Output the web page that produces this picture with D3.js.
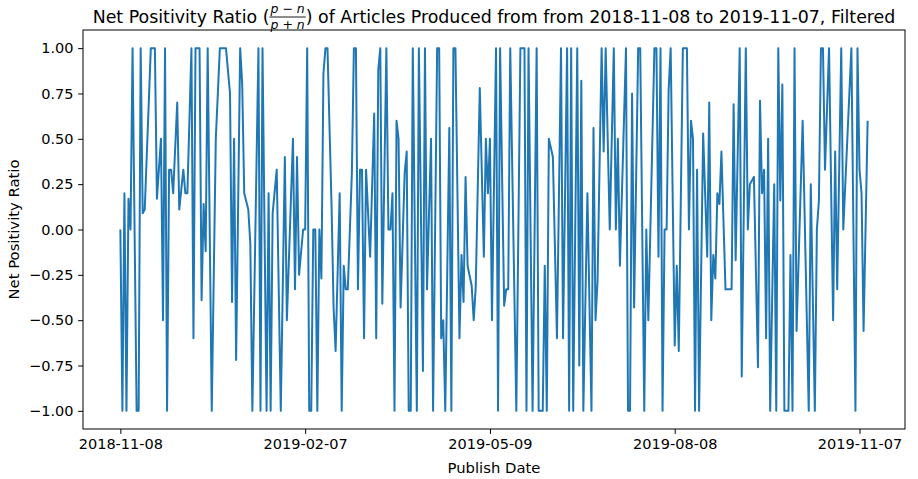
<!DOCTYPE html>
<html>
<head>
<meta charset="utf-8">
<script src="https://cdn.jsdelivr.net/npm/d3@7"></script>
<style>
  body { margin: 0; background: #fff; }
  svg text { font-family: "DejaVu Sans", sans-serif; fill: #000; }
</style>
</head>
<body>
<svg id="chart" width="918" height="479"></svg>
<script>
// Daily net positivity ratio of published articles
const publishDates = [
  "2018-11-08","2018-11-09","2018-11-10","2018-11-11","2018-11-12","2018-11-13","2018-11-14","2018-11-16","2018-11-17","2018-11-18",
  "2018-11-19","2018-11-20","2018-11-23","2018-11-25","2018-11-26","2018-11-28","2018-11-29","2018-11-30",
  "2018-12-01","2018-12-02","2018-12-03","2018-12-04","2018-12-06","2018-12-07","2018-12-09","2018-12-10","2018-12-11","2018-12-13",
  "2018-12-14","2018-12-15","2018-12-17","2018-12-18","2018-12-19","2018-12-20","2018-12-21","2018-12-23","2018-12-25","2018-12-27","2018-12-30",
  "2019-01-01","2019-01-02","2019-01-03","2019-01-04","2019-01-06","2019-01-07","2019-01-08","2019-01-10","2019-01-11","2019-01-12",
  "2019-01-15","2019-01-16","2019-01-17","2019-01-19","2019-01-20","2019-01-21","2019-01-22","2019-01-24","2019-01-26","2019-01-28","2019-01-29",
  "2019-02-01","2019-02-02","2019-02-03","2019-02-04","2019-02-06","2019-02-07","2019-02-08","2019-02-09","2019-02-10","2019-02-11",
  "2019-02-12","2019-02-13","2019-02-14","2019-02-15","2019-02-16","2019-02-17","2019-02-18","2019-02-20","2019-02-21","2019-02-22",
  "2019-02-24","2019-02-25","2019-02-26","2019-02-27","2019-02-28",
  "2019-03-02","2019-03-03","2019-03-04","2019-03-05","2019-03-06","2019-03-07","2019-03-08","2019-03-09","2019-03-11","2019-03-13",
  "2019-03-14","2019-03-15","2019-03-16","2019-03-17","2019-03-19","2019-03-20","2019-03-21","2019-03-22","2019-03-23","2019-03-24",
  "2019-03-25","2019-03-26","2019-03-28","2019-03-29","2019-03-30","2019-03-31",
  "2019-04-01","2019-04-03","2019-04-04","2019-04-06","2019-04-07","2019-04-08","2019-04-10","2019-04-11","2019-04-13","2019-04-14",
  "2019-04-15","2019-04-16","2019-04-17","2019-04-19","2019-04-20","2019-04-21","2019-04-22","2019-04-24","2019-04-25","2019-04-26",
  "2019-04-27","2019-04-28","2019-04-30",
  "2019-05-01","2019-05-02","2019-05-04","2019-05-06","2019-05-07","2019-05-08","2019-05-09","2019-05-10","2019-05-12","2019-05-13",
  "2019-05-14","2019-05-16","2019-05-17","2019-05-18","2019-05-19","2019-05-22","2019-05-24","2019-05-26","2019-05-27","2019-05-28","2019-05-30",
  "2019-06-01","2019-06-02","2019-06-04","2019-06-05","2019-06-06","2019-06-07","2019-06-09","2019-06-11","2019-06-13","2019-06-14",
  "2019-06-16","2019-06-17","2019-06-18","2019-06-19","2019-06-21","2019-06-22","2019-06-23","2019-06-24","2019-06-26","2019-06-28",
  "2019-06-29","2019-06-30",
  "2019-07-01","2019-07-03","2019-07-04","2019-07-05","2019-07-07","2019-07-09","2019-07-10","2019-07-11","2019-07-12","2019-07-15",
  "2019-07-16","2019-07-17","2019-07-18","2019-07-19","2019-07-21","2019-07-22","2019-07-24","2019-07-25","2019-07-26","2019-07-29",
  "2019-07-30","2019-07-31",
  "2019-08-01","2019-08-02","2019-08-03","2019-08-04","2019-08-05","2019-08-06","2019-08-08","2019-08-09","2019-08-10","2019-08-12",
  "2019-08-14","2019-08-15","2019-08-16","2019-08-17","2019-08-18","2019-08-19","2019-08-20","2019-08-22","2019-08-24","2019-08-25",
  "2019-08-26","2019-08-27","2019-08-28","2019-08-29","2019-08-30","2019-08-31",
  "2019-09-02","2019-09-05","2019-09-06","2019-09-07","2019-09-09","2019-09-10","2019-09-12","2019-09-13","2019-09-14","2019-09-16",
  "2019-09-18","2019-09-19","2019-09-20","2019-09-21","2019-09-22","2019-09-23","2019-09-24","2019-09-26","2019-09-27","2019-09-28",
  "2019-09-29","2019-09-30",
  "2019-10-01","2019-10-03","2019-10-04","2019-10-05","2019-10-06","2019-10-07","2019-10-10","2019-10-13","2019-10-14","2019-10-16",
  "2019-10-17","2019-10-18","2019-10-19","2019-10-20","2019-10-21","2019-10-23","2019-10-25","2019-10-26","2019-10-27","2019-10-29",
  "2019-10-30",
  "2019-11-03","2019-11-05","2019-11-06","2019-11-07","2019-11-08","2019-11-09","2019-11-11"
];

const netPositivity = [
  0, -1, 0.2, -1, 0.17, 0, 1, -1, -1, 1,
  0.09, 0.11, 1, 1, 0.17, 0.5, -0.5, 1,
  -1, 0.33, 0.33, 0.2, 0.7, 0.11, 0.33, 0.2, 0.2, 1,
  -0.6, 1, 1, -0.39, 0.14, -0.12, 1, -1, 0.5, 1, 1,
  0.75, -0.4, 0.5, -0.72, 1, 0.8, 0.2, 0.11, -0.08, -1,
  1, -1, 1, -1, 0.2, -1, 0.09, 0.33, -1, 0.4, -0.5,
  0.5, -0.33, 0.4, -0.25, 0, 0, 1, -1, -1, 0,
  0, -1, 0, -0.27, 0.86, 1, 1, 0.13, -0.43, -0.67,
  0.2, -1, -0.2, -0.33, -0.33,
  0.31, 1, 1, -0.33, 0.33, 0.33, -0.6, 0.33, -0.15, 0.64,
  -0.6, 0.88, 1, -0.41, 1, 0, 0, 0.2, -1, 0.6,
  0.5, -0.43, 0.31, 0.43, -1, -1,
  1, -1, 1, -0.78, 1, -0.33, 0.5, -1, 1, 1,
  -0.6, -0.5, -1, 0.56, -1, 1, 1, -0.6, -0.14, -0.4,
  0.29, -0.2, -0.31,
  -0.5, -0.32, 0.78, -0.15, 0.5, 0.2, 0.5, -0.5, 1, -1,
  1, -0.42, -0.33, -0.33, 1, -1, 1, 1, -1, 1, -1,
  1, -1, -1, -0.2, -1, 0.5, 0.4, -0.6, 1, -0.6,
  1, -1, 1, -1, 1, -0.75, 0.82, -1, 0.2, -1,
  0.56, -0.5,
  -0.28, 1, 0.43, 1, 0, 1, 0, 0.5, -0.2, 1,
  -1, -1, 0.75, -0.43, 1, 1, -1, 0, -0.5, 1,
  1, -0.15,
  1, -1, 0, 0, 0.77, 1, -0.64, -0.2, -0.67, 1,
  1, 0, 0.6, 0.5, -1, 0.33, -1, 0.53, -0.15, 0.7,
  -0.5, -0.14, -0.27, 0.2, 0.14, 0.43,
  -0.33, -0.33, 0.69, -0.17, 1, -0.81, 1, 0, 0.25, 0.29,
  -0.76, 0.71, 0.2, 0.33, -0.6, 0.5, -1, 0.25, -1, 1,
  0.16, 0.8,
  -1, -1, -0.14, -1, 1, -0.56, 0.6, -1, 0.25, -1,
  0, 0.16, 1, 1, 0.33, 1, -0.5, 0.43, -0.33, 1,
  0,
  1, -1, 1, 0.33, 0.2, -0.56, 0.6
];

const xTickLabels = ["2018-11-08", "2019-02-07", "2019-05-09", "2019-08-08", "2019-11-07"];
const yTickValues = [-1, -0.75, -0.5, -0.25, 0, 0.25, 0.5, 0.75, 1];

const parseDate = d3.utcParse("%Y-%m-%d");
const points = publishDates.map((d, i) => ({ date: parseDate(d), value: netPositivity[i] }));

const svg = d3.select("#chart");
const plot = { left: 83, right: 905, top: 30, bottom: 429 };

// Domains padded by 5% on each side
const [dMin, dMax] = d3.extent(points, p => p.date);
const dSpan = dMax - dMin;
const x = d3.scaleUtc()
  .domain([new Date(+dMin - dSpan * 0.05), new Date(+dMax + dSpan * 0.05)])
  .range([plot.left, plot.right]);

const [vMin, vMax] = d3.extent(points, p => p.value);
const vSpan = vMax - vMin;
const y = d3.scaleLinear()
  .domain([vMin - vSpan * 0.05, vMax + vSpan * 0.05])
  .range([plot.bottom, plot.top]);

const tickFont = 14.5;
const labelFont = 14.8;
const minus = s => s.replace("-", "\u2212");

// X axis
const xAxis = svg.append("g")
  .attr("transform", `translate(0,${plot.bottom})`)
  .call(d3.axisBottom(x)
    .tickValues(xTickLabels.map(parseDate))
    .tickFormat(d3.utcFormat("%Y-%m-%d"))
    .tickSize(4.9)
    .tickPadding(4.6));
xAxis.select(".domain").remove();
xAxis.selectAll(".tick line").attr("stroke", "#000").attr("stroke-width", 1);
xAxis.selectAll(".tick text").attr("font-size", tickFont).attr("font-family", "DejaVu Sans").attr("fill", "#000");

// Y axis
const yAxis = svg.append("g")
  .attr("transform", `translate(${plot.left},0)`)
  .call(d3.axisLeft(y)
    .tickValues(yTickValues)
    .tickFormat(v => minus(d3.format(".2f")(v)))
    .tickSize(4.9)
    .tickPadding(4.6));
yAxis.select(".domain").remove();
yAxis.selectAll(".tick line").attr("stroke", "#000").attr("stroke-width", 1);
yAxis.selectAll(".tick text").attr("font-size", tickFont).attr("font-family", "DejaVu Sans").attr("fill", "#000");

// Series line
const line = d3.line()
  .x(p => x(p.date))
  .y(p => y(p.value));

svg.append("path")
  .datum(points)
  .attr("fill", "none")
  .attr("stroke", "#1f77b4")
  .attr("stroke-width", 2)
  .attr("stroke-linejoin", "round")
  .attr("stroke-linecap", "butt")
  .attr("d", line);

// Axes frame
svg.append("rect")
  .attr("x", plot.left).attr("y", plot.top)
  .attr("width", plot.right - plot.left).attr("height", plot.bottom - plot.top)
  .attr("fill", "none").attr("stroke", "#000").attr("stroke-width", 1);

// Axis labels
svg.append("text")
  .attr("x", (plot.left + plot.right) / 2).attr("y", 473)
  .attr("text-anchor", "middle").attr("font-size", labelFont)
  .text("Publish Date");

svg.append("text")
  .attr("transform", `translate(19,${(plot.top + plot.bottom) / 2}) rotate(-90)`)
  .attr("text-anchor", "middle").attr("font-size", labelFont)
  .text("Net Positivity Ratio");

// Title with inline fraction (p − n)/(p + n)
const titleSize = 17.4;
const titleBase = 23;
const title = svg.append("g");
const left = title.append("text").attr("font-size", titleSize).attr("y", titleBase)
  .text("Net Positivity Ratio (");
const frac = title.append("g");
const fracSize = 12.5;
const num = frac.append("text").attr("font-size", fracSize).attr("text-anchor", "middle").attr("y", titleBase - 10);
num.append("tspan").attr("font-style", "italic").text("p");
num.append("tspan").text(" \u2212 ");
num.append("tspan").attr("font-style", "italic").text("n");
const den = frac.append("text").attr("font-size", fracSize).attr("text-anchor", "middle").attr("y", titleBase + 6);
den.append("tspan").attr("font-style", "italic").text("p");
den.append("tspan").text(" + ");
den.append("tspan").attr("font-style", "italic").text("n");
const right = title.append("text").attr("font-size", titleSize).attr("y", titleBase)
  .text(") of Articles Produced from from 2018-11-08 to 2019-11-07, Filtered");

const wLeft = left.node().getComputedTextLength();
const wFrac = Math.max(num.node().getComputedTextLength(), den.node().getComputedTextLength()) + 2;
const wRight = right.node().getComputedTextLength();
const total = wLeft + wFrac + wRight;
const start = (plot.left + plot.right) / 2 - total / 2;
left.attr("x", start);
num.attr("x", start + wLeft + wFrac / 2);
den.attr("x", start + wLeft + wFrac / 2);
frac.append("line")
  .attr("x1", start + wLeft).attr("x2", start + wLeft + wFrac)
  .attr("y1", titleBase - 6).attr("y2", titleBase - 6)
  .attr("stroke", "#000").attr("stroke-width", 0.9);
right.attr("x", start + wLeft + wFrac);
</script>
</body>
</html>
